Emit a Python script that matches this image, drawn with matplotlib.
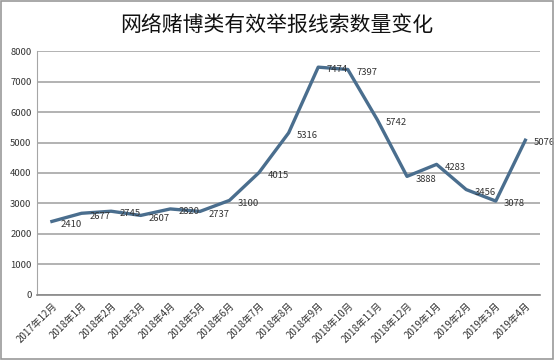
import matplotlib.pyplot as plt
from matplotlib.patches import Rectangle

plt.rcParams['font.family'] = ['Noto Sans CJK SC', 'DejaVu Sans']

# --- data ---
months = ["2017年12月", "2018年1月", "2018年2月", "2018年3月", "2018年4月",
          "2018年5月", "2018年6月", "2018年7月", "2018年8月", "2018年9月",
          "2018年10月", "2018年11月", "2018年12月", "2019年1月", "2019年2月",
          "2019年3月", "2019年4月"]
counts = [2410, 2677, 2745, 2607, 2820, 2737, 3100, 4015, 5316, 7474,
          7397, 5742, 3888, 4283, 3456, 3078, 5076]
y_ticks = [0, 1000, 2000, 3000, 4000, 5000, 6000, 7000, 8000]

line_color = "#4a6e8e"
grid_color = "#a6a6a6"

fig = plt.figure(figsize=(5.54, 3.6), dpi=100)
ax = fig.add_axes([0.067, 0.181, 0.908, 0.677])

xs = list(range(len(months)))
ax.plot(xs, counts, color=line_color, linewidth=2.4, solid_joinstyle='round')

for x, v in zip(xs, counts):
    ax.annotate(str(v), (x, v), xytext=(6, -2), textcoords='offset points',
                ha='left', va='center', fontsize=6.8, color='#333333')

ax.set_xlim(-0.5, len(months) - 0.5)
ax.set_ylim(0, 8000)
ax.set_yticks(y_ticks)
ax.set_yticklabels([str(t) for t in y_ticks], fontsize=6.8, color='#333333')
ax.set_xticks(xs)
ax.set_xticklabels(months, rotation=45, ha='right', rotation_mode='anchor',
                   fontsize=7, color='#333333')
ax.tick_params(axis='both', length=0, pad=4)

ax.grid(axis='y', color=grid_color, linewidth=1.2)
ax.set_axisbelow(True)
for side in ['top', 'right']:
    ax.spines[side].set_visible(False)
ax.spines['left'].set_color(grid_color)
ax.spines['bottom'].set_color('#888888')
ax.spines['bottom'].set_linewidth(1.2)

fig.text(0.5, 0.93, "网络赌博类有效举报线索数量变化", ha='center', va='center',
         fontsize=15, color='#111111', fontweight='medium')

# outer border
fig.patches.append(Rectangle((0.002, 0.003), 0.996, 0.994, transform=fig.transFigure,
                             fill=False, edgecolor='#999999', linewidth=1.2))

fig.savefig("out.png", dpi=100)
